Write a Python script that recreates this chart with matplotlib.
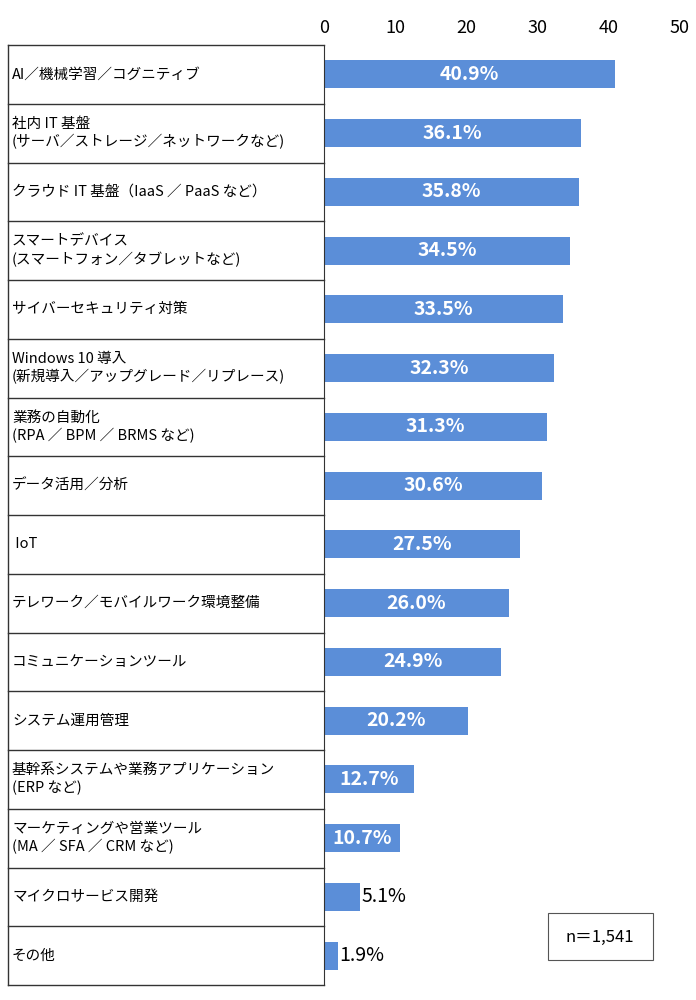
import matplotlib
matplotlib.use("Agg")
import matplotlib.pyplot as plt
from matplotlib.patches import Rectangle

plt.rcParams['font.family'] = ['Noto Sans CJK JP', 'DejaVu Sans']

categories = ["AI／機械学習／コグニティブ",
              "社内 IT 基盤\n(サーバ／ストレージ／ネットワークなど)",
              "クラウド IT 基盤（IaaS ／ PaaS など）",
              "スマートデバイス\n(スマートフォン／タブレットなど)",
              "サイバーセキュリティ対策",
              "Windows 10 導入\n(新規導入／アップグレード／リプレース)",
              "業務の自動化\n(RPA ／ BPM ／ BRMS など)",
              "データ活用／分析",
              " IoT",
              "テレワーク／モバイルワーク環境整備",
              "コミュニケーションツール",
              "システム運用管理",
              "基幹系システムや業務アプリケーション\n(ERP など)",
              "マーケティングや営業ツール\n(MA ／ SFA ／ CRM など)",
              "マイクロサービス開発",
              "その他"]
values = [40.9, 36.1, 35.8, 34.5, 33.5, 32.3, 31.3, 30.6, 27.5, 26.0, 24.9, 20.2, 12.7, 10.7, 5.1, 1.9]
ticks = [0, 10, 20, 30, 40, 50]

W, H = 696, 1000
fig = plt.figure(figsize=(W/100, H/100), dpi=100)
top, bot, xl, xr, lx = 45, 985, 324, 680, 8
ax = fig.add_axes([xl/W, 1-bot/H, (xr-xl)/W, (bot-top)/H])
n = len(values)
ys = list(range(n))
ax.barh(ys, values, height=0.48, color='#5b8ed8')
ax.set_ylim(n-0.5, -0.5)
ax.set_xlim(0, 50)
ax.set_xticks(ticks)
ax.xaxis.tick_top()
ax.tick_params(axis='x', length=0, labelsize=13, pad=6)
ax.set_yticks([])
for s in ['right', 'bottom', 'top']:
    ax.spines[s].set_visible(False)
ax.spines['left'].set_color('#333333')
for y, v in zip(ys, values):
    if v > 10:
        ax.text(v/2, y, f"{v:.1f}%", color='white', fontweight='bold', fontsize=14, ha='center', va='center')
    else:
        ax.text(v+0.2, y, f"{v:.1f}%", color='black', fontsize=14, ha='left', va='center')

rh = (bot-top)/n
lines_ax = fig.add_axes([0, 0, 1, 1], facecolor='none')
lines_ax.set_xlim(0, W); lines_ax.set_ylim(H, 0); lines_ax.axis('off')
lines_ax.plot([lx, lx], [top, bot], color='#333333', lw=1)
for i in range(n+1):
    y = top + i*rh
    lines_ax.plot([lx, xl], [y, y], color='#333333', lw=1)
for i, c in enumerate(categories):
    lines_ax.text(lx+4, top+(i+0.5)*rh, c, fontsize=10.5, va='center', ha='left', linespacing=1.3)
lines_ax.add_patch(Rectangle((548, 913), 105, 47, fill=False, ec='#555555', lw=0.8))
lines_ax.text(600, 937, "n＝1,541", fontsize=12, ha='center', va='center')

fig.savefig("out.png", dpi=100)
